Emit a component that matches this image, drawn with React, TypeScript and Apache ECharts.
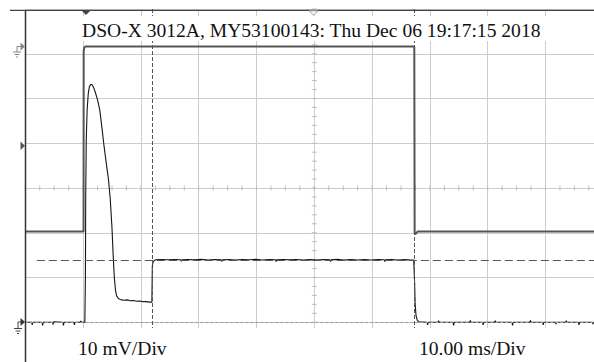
import React, { useEffect, useRef } from "react";
import * as echarts from "echarts";

const W = 594;
const H = 362;

const titleText = "DSO-X 3012A, MY53100143: Thu Dec 06 19:17:15 2018";
const vScaleLabel = "10 mV/Div";
const hScaleLabel = "10.00 ms/Div";

// time axis in ms (10 ms / div), analog axis in mV (10 mV / div)
const xMin = 0;
const xMax = 100;
const xStep = 10;
const yMin = -10;
const yMax = 70;
const yStep = 10;

// Channel 2 (analog), [ms, mV]
const analogBaselineA: number[][] = [
  [0, 0], [1.1, 0], [1.2, -0.6], [1.3, 0], [2.9, 0], [3.0, -0.7], [3.1, 0], [4.7, 0],
  [4.8, -0.5], [4.9, 0.1], [6.5, 0], [6.6, -0.7], [6.7, 0], [8.4, 0], [8.5, -0.6],
  [8.6, 0], [9.5, 0], [9.6, 0.3], [9.7, 0], [10.3, 0],
];
const analogPulse: number[][] = [
  [10.4, 10], [10.45, 28], [10.55, 41], [10.7, 47.5], [10.9, 51.2], [11.1, 52.7], [11.35, 53.2],
  [11.6, 53.0], [11.9, 52.2], [12.2, 51.0], [12.5, 49.7], [12.9, 47.3], [13.3, 43.0],
  [13.6, 39.6], [14.0, 35.6], [14.4, 31.8], [14.7, 27.5], [15.0, 21.0], [15.2, 15.0],
  [15.4, 10.0], [15.6, 7.2], [15.8, 5.9], [16.1, 5.3], [16.6, 5.0],
];
const analogLowPlateau: number[][] = [
  [17.2, 4.9], [17.6, 5.0], [18.2, 4.8], [18.7, 4.85], [19.3, 4.7], [19.8, 4.75], [20.4, 4.6],
  [20.9, 4.6], [21.5, 4.5], [21.9, 4.5],
];
const analogStep: number[][] = [
  [21.98, 12.6], [22.1, 13.4], [22.3, 13.8], [22.6, 13.95],
];
const analogHighPlateau: number[][] = [
  [23.5, 14.0], [24.6, 13.95], [25.8, 14.0], [26.9, 13.95], [27.0, 13.6], [27.1, 13.95],
  [28.1, 14.0], [29.3, 13.95], [30.5, 14.05], [31.6, 13.9], [32.8, 14.0], [33.9, 13.95],
  [34.0, 13.55], [34.1, 13.95], [35.2, 14.0], [36.3, 13.9], [37.5, 14.0], [38.7, 13.95],
  [39.9, 14.05], [41.0, 13.9], [42.2, 14.0], [43.3, 13.95], [43.4, 13.55], [43.5, 13.95],
  [44.6, 14.0], [45.7, 13.95], [46.9, 14.0], [48.1, 13.9], [49.3, 14.0], [50.4, 13.9],
  [51.6, 14.0], [52.7, 13.95], [52.8, 13.55], [52.9, 13.95], [54.0, 14.05], [55.1, 13.9],
  [56.3, 14.0], [57.5, 13.9], [58.7, 14.0], [59.8, 13.9], [61.0, 14.0], [62.1, 13.95],
  [62.2, 13.55], [62.3, 13.95], [63.4, 14.0], [64.5, 13.9], [65.7, 14.0], [66.6, 13.9],
  [67.2, 13.9],
];
const analogFall: number[][] = [
  [67.35, 9.0], [67.45, 4.0], [67.6, 1.5], [67.8, 0.5], [68.1, 0.1],
];
const analogBaselineB: number[][] = [
  [69.5, 0], [69.6, -0.6], [69.7, 0], [71.4, 0], [71.5, 0.35], [71.6, 0], [74.0, 0],
  [74.1, -0.7], [74.2, 0], [76.9, 0], [77.0, 0.4], [77.1, 0], [79.1, 0], [79.2, -0.6],
  [79.3, 0], [81.2, 0], [81.3, 0.35], [81.4, 0], [84.2, 0], [84.3, -0.7], [84.4, 0],
  [87.3, 0], [87.4, 0.4], [87.5, 0], [89.5, 0], [89.6, -0.6], [89.7, 0], [91.7, 0],
  [91.8, -0.4], [91.9, 0], [93.5, 0], [93.6, 0.35], [93.7, 0], [95.7, 0], [95.8, -0.6],
  [95.9, 0], [98.1, 0], [98.2, -0.4], [98.3, 0], [100, 0],
];

// Channel 1 (digital), [ms, divisions from screen bottom]
const digitalTrace: number[][] = [
  [0, 3.03], [10.08, 3.03], [10.1, 7.06], [10.2, 7.14], [10.35, 7.16], [67.3, 7.16],
  [67.36, 2.98], [67.5, 2.97], [67.75, 3.01], [67.95, 3.03], [100, 3.03],
];

const cursorTimesMs = [22.0, 67.3];
const cursorLevelMv = 13.75;
const cursorLevelStartMs = 2.0;
const groundMv = 0;

const minorStepMs = 2.5;
const minorStepMv = 2;
const centerMs = 50;
const centerMv = 30;

const serif = "Liberation Serif";

export default function App() {
  const ref = useRef<HTMLDivElement>(null);

  useEffect(() => {
    if (!ref.current) return;
    const chart = echarts.init(ref.current, undefined, { renderer: "svg" });

    const analogData = [
      ...analogBaselineA,
      ...analogPulse,
      ...analogLowPlateau,
      ...analogStep,
      ...analogHighPlateau,
      ...analogFall,
      ...analogBaselineB,
    ];

    const tickData: number[][] = [];
    for (let t = xMin; t <= xMax + 1e-9; t += minorStepMs) tickData.push([t, centerMv, 0]);
    for (let v = yMin; v <= yMax + 1e-9; v += minorStepMv) tickData.push([centerMs, v, 1]);

    const dashCursor = { color: "#555", width: 1, type: [4, 2] as any };
    const txt = (text: string) => ({
      text,
      fill: "#111",
      fontSize: 17.8,
      fontFamily: serif,
      align: "left",
      verticalAlign: "middle",
    });

    const option: any = {
      animation: false,
      backgroundColor: "#fff",
      grid: { left: 25.3, top: 9, width: 578, height: 358, outerBoundsMode: "none" },
      xAxis: {
        type: "value",
        min: xMin,
        max: xMax,
        interval: xStep,
        axisLine: { show: false },
        axisTick: { show: false },
        axisLabel: { show: false },
        splitLine: { show: true, lineStyle: { color: "#cdcdcd", width: 1 } },
      },
      yAxis: [
        {
          type: "value",
          min: yMin,
          max: yMax,
          interval: yStep,
          axisLine: { show: false },
          axisTick: { show: false },
          axisLabel: { show: false },
          splitLine: { show: true, lineStyle: { color: "#cdcdcd", width: 1 } },
        },
        {
          type: "value",
          min: 0,
          max: 8,
          show: false,
          splitLine: { show: false },
        },
      ],
      series: [
        {
          type: "custom",
          name: "graticule ticks",
          z: 1,
          silent: true,
          data: tickData,
          renderItem: (_p: any, api: any) => {
            const pt = api.coord([api.value(0), api.value(1)]);
            const horiz = api.value(2) === 0;
            const L = 2.5;
            return {
              type: "line",
              shape: horiz
                ? { x1: pt[0], y1: pt[1] - L, x2: pt[0], y2: pt[1] + L }
                : { x1: pt[0] - L, y1: pt[1], x2: pt[0] + L, y2: pt[1] },
              style: { stroke: "#bdbdbd", lineWidth: 1 },
            };
          },
        },
        {
          type: "line",
          name: "cursors",
          data: [],
          z: 2,
          silent: true,
          markLine: {
            silent: true,
            symbol: ["none", "none"],
            label: { show: false },
            animation: false,
            data: [
              { yAxis: groundMv, lineStyle: { color: "#9a9a9a", width: 1.2, type: [3, 2] } },
              ...cursorTimesMs.map((t) => ({ xAxis: t, lineStyle: dashCursor })),
              [
                { coord: [cursorLevelStartMs, cursorLevelMv], lineStyle: { color: "#555", width: 1, type: [8, 4] } },
                { coord: [xMax, cursorLevelMv] },
              ],
            ],
          },
        },
        {
          type: "line",
          name: "Ch1",
          yAxisIndex: 1,
          data: digitalTrace,
          showSymbol: false,
          z: 3,
          lineStyle: { color: "#555", width: 2 },
        },
        {
          type: "line",
          name: "Ch2",
          yAxisIndex: 0,
          data: analogData,
          showSymbol: false,
          z: 4,
          lineStyle: { color: "#151515", width: 1.1 },
        },
      ],
      graphic: [
        { type: "rect", z: 50, silent: true, shape: { x: 78, y: 16, width: 472, height: 25 }, style: { fill: "#fff" } },
        { type: "text", z: 51, x: 82, y: 31, scaleX: 1.1, style: txt(titleText) },
        { type: "rect", z: 50, silent: true, shape: { x: 26.5, y: 328, width: 570, height: 40 }, style: { fill: "#fff" } },
        { type: "text", z: 51, x: 78, y: 349, scaleX: 1.1, style: txt(vScaleLabel) },
        { type: "text", z: 51, x: 419, y: 349, scaleX: 1.1, style: txt(hScaleLabel) },
        // frame
        { type: "line", z: 60, shape: { x1: 25.5, y1: 10, x2: 25.5, y2: 362 }, style: { stroke: "#333", lineWidth: 1.5 } },
        { type: "line", z: 60, shape: { x1: 10, y1: 10.3, x2: 594, y2: 10.3 }, style: { stroke: "#444", lineWidth: 1.3 } },
        // top markers
        { type: "polygon", z: 61, shape: { points: [[81.5, 10.5], [90.5, 10.5], [86, 15]] }, style: { fill: "#444" } },
        { type: "polygon", z: 61, shape: { points: [[309, 10.8], [318, 10.8], [313.5, 15]] }, style: { fill: "#fff", stroke: "#999", lineWidth: 1 } },
        // Ch1 ground marker
        { type: "polygon", z: 61, shape: { points: [[20.5, 42.5], [25, 46.5], [20.5, 50.5]] }, style: { fill: "#888" } },
        { type: "line", z: 61, shape: { x1: 17, y1: 46.5, x2: 21, y2: 46.5 }, style: { stroke: "#888", lineWidth: 1 } },
        { type: "line", z: 61, shape: { x1: 17, y1: 46.5, x2: 17, y2: 52 }, style: { stroke: "#888", lineWidth: 1 } },
        { type: "line", z: 61, shape: { x1: 13, y1: 52, x2: 21, y2: 52 }, style: { stroke: "#888", lineWidth: 1 } },
        { type: "line", z: 61, shape: { x1: 14.5, y1: 54.5, x2: 19.5, y2: 54.5 }, style: { stroke: "#888", lineWidth: 1 } },
        { type: "line", z: 61, shape: { x1: 16, y1: 57, x2: 18, y2: 57 }, style: { stroke: "#888", lineWidth: 1 } },
        // trigger level marker
        { type: "polygon", z: 61, shape: { points: [[20.5, 141.5], [25, 145.8], [20.5, 150]] }, style: { fill: "#555" } },
        // Ch2 ground marker
        { type: "polygon", z: 61, shape: { points: [[20.5, 318], [25, 322], [20.5, 326]] }, style: { fill: "#333" } },
        { type: "line", z: 61, shape: { x1: 18, y1: 322, x2: 21, y2: 322 }, style: { stroke: "#444", lineWidth: 1 } },
        { type: "line", z: 61, shape: { x1: 18, y1: 322, x2: 18, y2: 328.5 }, style: { stroke: "#444", lineWidth: 1 } },
        { type: "line", z: 61, shape: { x1: 14, y1: 328.5, x2: 22, y2: 328.5 }, style: { stroke: "#444", lineWidth: 1 } },
        { type: "line", z: 61, shape: { x1: 15.5, y1: 331, x2: 20.5, y2: 331 }, style: { stroke: "#444", lineWidth: 1 } },
        { type: "line", z: 61, shape: { x1: 17, y1: 333.5, x2: 19, y2: 333.5 }, style: { stroke: "#444", lineWidth: 1 } },
      ],
    };

    chart.setOption(option);
    return () => chart.dispose();
  }, []);

  return (
    <div
      ref={ref}
      style={{ position: "absolute", left: 0, top: 0, width: W, height: H, background: "#fff" }}
    />
  );
}
